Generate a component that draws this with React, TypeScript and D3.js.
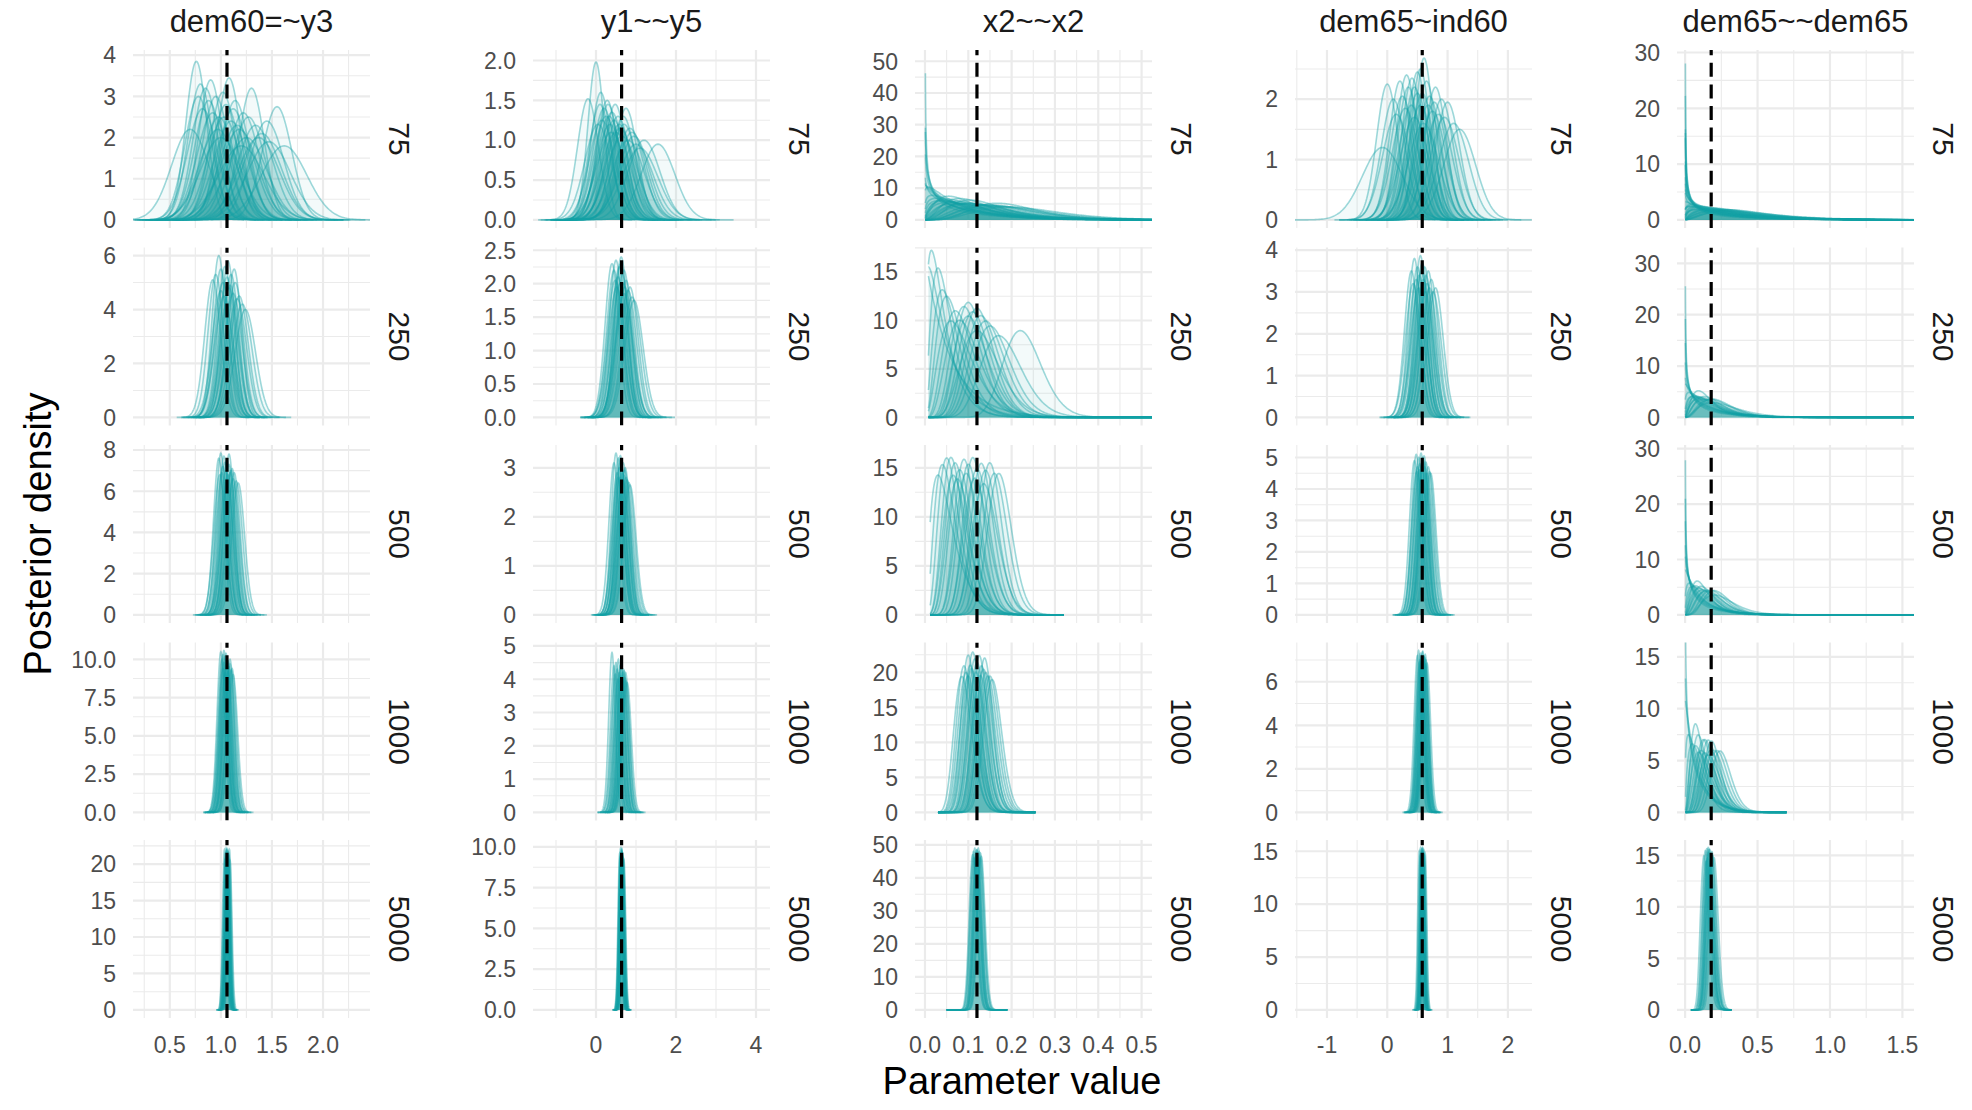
import React from "react";
import * as d3 from "d3";

const W = 1972;
const H = 1110;

// facet labels
const params = ["dem60=~y3", "y1~~y5", "x2~~x2", "dem65~ind60", "dem65~~dem65"];
const sampleSizes = ["75", "250", "500", "1000", "5000"];
const trueValues = [1.06, 0.64, 0.12, 0.58, 0.18];

// x axes (per column)
const xLimits = [
  [0.14, 2.46],
  [-1.575, 4.35],
  [-0.023, 0.524],
  [-1.53, 2.4],
  [-0.056, 1.58],
];
const xTickValues = [
  [0.5, 1.0, 1.5, 2.0],
  [0, 2, 4],
  [0, 0.1, 0.2, 0.3, 0.4, 0.5],
  [-1, 0, 1, 2],
  [0, 0.5, 1.0, 1.5],
];
const xTickDecimals = [1, 0, 1, 0, 1];

// y axes (rows x columns): maximum density and tick step
const yMaxByRow = [
  [3.93, 2.03, 51, 2.68, 29],
  [6.0, 2.42, 16.7, 3.87, 31.5],
  [7.85, 3.3, 16.5, 5.14, 29.2],
  [10.57, 4.86, 23.1, 7.43, 15.6],
  [22.2, 9.93, 49, 15.3, 15.7],
];
const yStepByRow = [
  [1, 0.5, 10, 1, 10],
  [2, 0.5, 5, 1, 10],
  [2, 1, 5, 1, 10],
  [2.5, 1, 5, 2, 5],
  [5, 2.5, 10, 5, 5],
];

// normal-shaped posteriors: [mode, peak density]
const dem60y3Curves = [
  [[0.76,3.85],[0.8,3.3],[0.85,3.2],[0.88,2.9],[0.92,2.6],[0.95,3.0],[0.98,2.5],[1.02,3.1],[1.05,2.8],[1.08,3.45],[1.1,2.4],[1.14,2.9],[1.18,2.2],[1.22,2.6],[1.25,2.0],[1.3,3.2],[1.34,2.3],[1.4,2.1],[1.47,1.9],[1.55,2.75],[1.62,1.8],[0.7,2.2],[1.0,2.0],[1.2,1.8],[0.82,2.7],[0.9,3.4],[0.97,2.2],[1.03,2.5],[1.12,2.7],[1.16,2.3],[1.27,2.5],[1.37,2.0],[0.78,3.0],[1.45,2.4]],
  [[0.95,5.3],[0.98,6.0],[1.0,5.5],[1.02,5.0],[1.04,5.6],[1.06,5.2],[1.07,5.8],[1.08,4.8],[1.1,5.3],[1.12,4.6],[1.14,5.0],[1.16,4.4],[1.18,4.5],[1.21,4.2],[1.24,4.0],[0.92,5.1],[1.03,4.5],[1.09,4.9],[1.13,5.5],[1.0,4.7]],
  [[0.98,7.6],[1.0,7.85],[1.02,7.2],[1.03,7.7],[1.05,7.0],[1.06,7.5],[1.07,6.8],[1.08,7.3],[1.09,6.9],[1.1,7.0],[1.12,6.6],[1.13,6.9],[1.15,6.5],[1.01,6.9],[1.04,7.4],[1.06,6.6],[1.08,7.8],[1.11,7.1],[0.99,6.8],[1.17,6.4]],
  [[1.0,10.5],[1.01,10.0],[1.02,10.3],[1.03,9.8],[1.04,10.2],[1.05,9.6],[1.06,10.1],[1.07,9.9],[1.08,9.5],[1.09,9.7],[1.1,9.3],[1.11,9.4],[1.12,9.0],[1.03,10.57],[1.05,10.4],[1.07,9.2],[1.09,10.0],[1.02,9.4],[1.06,9.8],[1.04,9.1]],
  [[1.035,22.0],[1.045,21.5],[1.05,22.2],[1.055,21.0],[1.06,21.8],[1.065,21.3],[1.07,22.0],[1.075,20.8],[1.08,21.2],[1.09,20.5],[1.05,20.9],[1.06,22.1],[1.07,21.5],[1.055,21.9],[1.065,20.7],[1.075,21.6],[1.04,20.6],[1.085,22.0],[1.06,21.0],[1.07,20.9]],
];
const y1y5Curves = [
  [[0.0,1.98],[-0.2,1.52],[0.1,1.45],[0.2,1.4],[0.25,1.3],[0.3,1.45],[0.35,1.2],[0.4,1.35],[0.45,1.25],[0.5,1.1],[0.55,1.3],[0.6,1.15],[0.65,1.05],[0.7,1.2],[0.8,1.0],[0.9,1.1],[1.0,0.95],[1.1,0.9],[1.55,0.95],[0.15,1.25],[0.75,1.4],[0.05,1.2],[0.12,1.6],[0.28,1.5],[0.38,1.1],[0.48,1.45],[0.58,1.2],[0.68,1.3],[0.85,1.15],[1.2,1.0],[0.33,1.3],[0.95,1.05]],
  [[0.4,2.3],[0.45,2.2],[0.5,2.35],[0.55,2.1],[0.58,2.25],[0.6,2.0],[0.62,2.3],[0.65,2.15],[0.68,2.0],[0.7,2.2],[0.72,1.95],[0.75,2.05],[0.8,1.9],[0.85,1.95],[0.9,1.8],[0.52,1.95],[0.63,2.4],[0.7,1.85],[0.48,2.05],[0.95,1.75]],
  [[0.45,3.1],[0.5,3.3],[0.53,2.9],[0.56,3.2],[0.58,3.0],[0.6,2.8],[0.62,3.15],[0.64,3.0],[0.66,2.9],[0.68,3.1],[0.7,2.85],[0.72,2.95],[0.75,2.8],[0.78,2.75],[0.82,2.7],[0.55,2.8],[0.61,3.25],[0.67,2.75],[0.73,3.0],[0.85,2.65]],
  [[0.4,4.8],[0.45,4.4],[0.5,4.5],[0.53,4.3],[0.56,4.6],[0.58,4.2],[0.6,4.4],[0.62,4.1],[0.64,4.35],[0.66,4.2],[0.68,4.0],[0.7,4.25],[0.72,4.05],[0.75,3.95],[0.78,3.9],[0.55,4.0],[0.63,4.5],[0.69,4.3],[0.48,4.15],[0.74,4.2]],
  [[0.59,9.6],[0.61,9.9],[0.62,9.4],[0.63,9.8],[0.64,9.5],[0.645,9.9],[0.65,9.3],[0.655,9.7],[0.66,9.5],[0.67,9.2],[0.67,9.6],[0.69,9.3],[0.62,9.1],[0.64,9.7],[0.66,9.0],[0.6,9.4],[0.65,9.8],[0.68,9.1],[0.61,9.3],[0.7,9.2]],
];
const dem65ind60Curves = [
  [[0.61,2.68],[0.41,2.35],[0.21,2.3],[0.0,2.25],[0.35,2.2],[1.0,1.95],[0.5,2.1],[0.55,1.9],[0.7,2.05],[0.75,1.8],[0.3,1.85],[0.45,1.7],[0.85,1.75],[0.9,2.0],[0.6,1.6],[0.15,1.75],[1.1,1.6],[-0.08,1.2],[0.65,2.3],[0.8,2.2],[0.25,2.05],[0.5,2.45],[0.1,2.0],[0.32,2.4],[0.45,2.2],[0.58,2.1],[0.68,1.9],[0.78,1.95],[0.95,1.7],[0.4,1.9],[0.55,2.5],[1.2,1.5]],
  [[0.4,3.5],[0.45,3.8],[0.48,3.3],[0.5,3.6],[0.53,3.4],[0.55,3.87],[0.57,3.5],[0.6,3.3],[0.62,3.6],[0.64,3.4],[0.66,3.2],[0.68,3.5],[0.7,3.1],[0.73,3.3],[0.76,3.0],[0.52,3.1],[0.58,3.7],[0.63,3.0],[0.43,3.2],[0.8,3.1]],
  [[0.45,4.9],[0.48,5.1],[0.5,4.7],[0.52,5.0],[0.54,4.8],[0.56,5.14],[0.58,4.6],[0.6,4.9],[0.62,4.7],[0.64,4.85],[0.66,4.5],[0.68,4.7],[0.7,4.55],[0.53,4.6],[0.59,5.0],[0.63,4.5],[0.57,4.75],[0.61,5.05],[0.49,4.55],[0.72,4.5]],
  [[0.5,7.2],[0.52,7.43],[0.54,7.0],[0.55,7.3],[0.56,6.9],[0.57,7.2],[0.58,7.35],[0.59,7.0],[0.6,7.2],[0.61,6.9],[0.62,7.1],[0.63,6.8],[0.64,7.0],[0.66,6.85],[0.53,6.9],[0.57,7.0],[0.59,7.4],[0.61,7.15],[0.55,6.8],[0.63,7.25]],
  [[0.53,15.0],[0.55,15.3],[0.56,14.8],[0.57,15.2],[0.575,14.9],[0.58,15.3],[0.585,14.7],[0.59,15.1],[0.6,14.8],[0.61,15.0],[0.62,14.6],[0.63,14.8],[0.57,14.6],[0.58,14.9],[0.59,14.5],[0.6,15.2],[0.565,15.1],[0.545,14.6],[0.585,15.2],[0.605,14.7]],
];

// variance posteriors (bounded at zero): [shape, mean]
const x2x2Curves = [
  [[0.48,0.08],[0.65,0.09],[0.75,0.1],[0.85,0.12],[0.95,0.1],[1.0,0.09],[1.1,0.08],[1.2,0.1],[1.4,0.12],[1.7,0.13],[1.8,0.11],[2.0,0.14],[2.2,0.1],[2.5,0.15],[3,0.12],[3,0.16],[3.5,0.18],[3.8,0.14],[4,0.2],[4.5,0.22],[5,0.24],[6,0.2],[0.7,0.08],[1.3,0.11],[2.8,0.15],[4.2,0.19],[1.6,0.12],[2.4,0.13]],
  [[1.0,0.06],[1.2,0.05],[1.55,0.042],[2.5,0.05],[2.9,0.061],[3.4,0.085],[3.6,0.069],[4.9,0.088],[5.2,0.099],[7.8,0.103],[8,0.114],[8.4,0.136],[10,0.111],[10.2,0.122],[12.6,0.13],[12.7,0.14],[13.3,0.151],[13.8,0.162],[14.1,0.183],[25.6,0.229]],
  [[2.3,0.053],[3.55,0.056],[5.2,0.062],[7,0.07],[8.5,0.079],[10,0.089],[14,0.097],[16.1,0.107],[20.9,0.116],[21.4,0.126],[26.5,0.135],[27.9,0.145],[35,0.154],[34.8,0.165],[39.2,0.175],[8,0.086],[13,0.103],[17.3,0.122],[6.6,0.077],[21.8,0.142]],
  [[23.4,0.094],[32.8,0.103],[31.5,0.108],[41.2,0.113],[41.2,0.118],[42.8,0.123],[50.7,0.128],[47.8,0.133],[49.1,0.138],[50.3,0.143],[51.3,0.148],[54.8,0.153],[55.5,0.158],[23.7,0.099],[24.9,0.104],[36,0.121],[31.8,0.111],[40.3,0.131],[18.3,0.09],[59,0.14]],
  [[182.6,0.1126],[200.5,0.1156],[198.4,0.1186],[213.8,0.1206],[207.6,0.1226],[227.2,0.1256],[233.3,0.1286],[230.6,0.1306],[187,0.1176],[229.2,0.1235],[170.9,0.1137],[215.3,0.1276],[210,0.1196],[202,0.1216],[169,0.1107]],
];
const dem65dem65Curves = [
  [[0.35,0.18],[0.45,0.2],[0.5,0.3],[0.55,0.25],[0.6,0.22],[0.65,0.3],[0.75,0.3],[0.85,0.35],[0.9,0.25],[1.0,0.3],[1.1,0.35],[1.2,0.28],[1.3,0.4],[1.5,0.35],[1.6,0.3],[1.8,0.4],[2.0,0.45],[2.2,0.35],[2.3,0.4],[2.5,0.5],[3,0.45],[0.8,0.3],[1.4,0.3],[1.9,0.35],[2.7,0.42],[1.15,0.32],[0.7,0.26]],
  [[0.5,0.12],[0.6,0.14],[0.7,0.15],[0.8,0.16],[0.9,0.17],[1.0,0.15],[1.2,0.16],[1.4,0.18],[1.6,0.17],[1.8,0.18],[2.0,0.2],[2.2,0.19],[2.5,0.22],[2.6,0.15],[3,0.2],[3,0.28],[3.5,0.24],[4,0.25]],
  [[0.5,0.1],[0.6,0.12],[0.7,0.12],[0.8,0.13],[0.9,0.12],[1.0,0.12],[1.3,0.13],[1.6,0.14],[2,0.14],[2.5,0.16],[2.8,0.13],[3,0.18],[3.2,0.16],[3.5,0.2],[4,0.2],[4.5,0.26],[5,0.22],[6,0.24]],
  [[0.72,0.09],[0.85,0.1],[1,0.09],[1.3,0.1],[1.8,0.11],[2.5,0.12],[3,0.14],[3.5,0.1],[4,0.12],[4,0.15],[5,0.17],[6,0.15],[6,0.19],[7,0.16],[8,0.2],[9,0.18],[10,0.22],[11,0.2],[12,0.24],[14,0.26]],
  [[30.6,0.1447],[35.8,0.1543],[38.7,0.1642],[45.2,0.1738],[48,0.1838],[52,0.1937],[56,0.2036],[24.9,0.1354],[34,0.1597],[42.6,0.1689],[42,0.1793],[52,0.1886],[28.7,0.1502],[37.6,0.1745],[41.2,0.164]],
];
// evaluation range [from, to] of the bounded posteriors, per row
const x2x2Range = [[0.001,0.524],[0.008,0.524],[0.012,0.32],[0.03,0.255],[0.05,0.19]];
const dem65dem65Range = [[0.002,1.58],[0.002,1.58],[0.002,1.58],[0.003,0.7],[0.04,0.32]];

const curveSets = [dem60y3Curves, y1y5Curves, x2x2Curves, dem65ind60Curves, dem65dem65Curves];
const curveKind = ["normal", "normal", "gamma", "normal", "gamma"];
const gammaRanges = [null, null, x2x2Range, null, dem65dem65Range];

// layout
const colLeft = [133, 533, 915, 1295, 1677];
const rowTop = [50, 247.5, 445, 642.5, 840];
const PW = 237;
const PH = 178;

const TEAL = "#12A0A6";
const FONT = "'Liberation Sans', Arial, Helvetica, sans-serif";

function lgamma(z: number): number {
  if (z < 0.5) return Math.log(Math.PI / Math.sin(Math.PI * z)) - lgamma(1 - z);
  z -= 1;
  const c = [0.99999999999980993, 676.5203681218851, -1259.1392167224028, 771.32342877765313,
    -176.61502916214059, 12.507343278686905, -0.13857109526572012, 9.9843695780195716e-6, 1.5056327351493116e-7];
  let x = c[0];
  for (let i = 1; i < 9; i++) x += c[i] / (z + i);
  const t = z + 7.5;
  return 0.5 * Math.log(2 * Math.PI) + (z + 0.5) * Math.log(t) - t + Math.log(x);
}

function normalPoints(mode: number, peak: number): [number, number][] {
  const sd = 1 / (peak * Math.sqrt(2 * Math.PI));
  const pts: [number, number][] = [];
  for (let i = 0; i <= 140; i++) {
    const t = -4.5 + (9 * i) / 140;
    const x = mode + t * sd;
    pts.push([x, peak * Math.exp(-0.5 * t * t)]);
  }
  return pts;
}

function gammaPoints(k: number, mean: number, x0: number, x1: number): [number, number][] {
  const th = mean / k;
  const lg = lgamma(k);
  const pts: [number, number][] = [];
  const N = 320;
  for (let i = 0; i <= N; i++) {
    const u = i / N;
    const x = x0 + (x1 - x0) * Math.pow(u, 1.7);
    const ly = (k - 1) * Math.log(x) - x / th - lg - k * Math.log(th);
    pts.push([x, Math.exp(ly)]);
  }
  return pts;
}

function fmt(v: number, d: number) {
  return d > 0 ? v.toFixed(d) : String(Math.round(v));
}

function Panel({ r, c }: { r: number; c: number }) {
  const left = colLeft[c];
  const top = rowTop[r];
  const x = d3.scaleLinear().domain(xLimits[c]).range([left, left + PW]);
  const ymax = yMaxByRow[r][c];
  const y = d3.scaleLinear().domain([-0.05 * ymax, 1.05 * ymax]).range([top + PH, top]);
  const ystep = yStepByRow[r][c];
  const yDec = ystep % 1 !== 0 ? 1 : 0;
  const yMajor = d3.range(0, 1.05 * ymax + 1e-9, ystep);
  const yMinor = d3.range(-ystep / 2, 1.05 * ymax + 1e-9, ystep).filter((v) => v >= -0.05 * ymax);
  const xt = xTickValues[c];
  const xstep = xt[1] - xt[0];
  const xMinor = d3
    .range(xt[0] - xstep / 2, xt[xt.length - 1] + xstep, xstep)
    .filter((v) => v >= xLimits[c][0] && v <= xLimits[c][1]);
  const clipId = `clip-${r}-${c}`;

  const line = d3.line<[number, number]>().x((d) => x(d[0])).y((d) => y(d[1]));
  const area = d3
    .area<[number, number]>()
    .x((d) => x(d[0]))
    .y0(y(0))
    .y1((d) => y(d[1]));

  const curves = curveSets[c][r].map((p) => {
    if (curveKind[c] === "normal") return normalPoints(p[0], p[1]);
    const rg = (gammaRanges[c] as number[][])[r];
    return gammaPoints(p[0], p[1], rg[0], rg[1]);
  });

  return (
    <g>
      <defs>
        <clipPath id={clipId}>
          <rect x={left} y={top} width={PW} height={PH} />
        </clipPath>
      </defs>
      {yMinor.map((v, i) => (
        <line key={"ym" + i} x1={left} x2={left + PW} y1={y(v)} y2={y(v)} stroke="#EBEBEB" strokeWidth={1.1} />
      ))}
      {xMinor.map((v, i) => (
        <line key={"xm" + i} x1={x(v)} x2={x(v)} y1={top} y2={top + PH} stroke="#EBEBEB" strokeWidth={1.1} />
      ))}
      {yMajor.map((v, i) => (
        <line key={"yM" + i} x1={left} x2={left + PW} y1={y(v)} y2={y(v)} stroke="#EBEBEB" strokeWidth={2.2} />
      ))}
      {xt.map((v, i) => (
        <line key={"xM" + i} x1={x(v)} x2={x(v)} y1={top} y2={top + PH} stroke="#EBEBEB" strokeWidth={2.2} />
      ))}
      <g clipPath={`url(#${clipId})`}>
        {curves.map((pts, i) => (
          <path key={"a" + i} d={area(pts) || ""} fill={TEAL} fillOpacity={0.05} stroke="none" />
        ))}
        {curves.map((pts, i) => (
          <path key={"l" + i} d={line(pts) || ""} fill="none" stroke={TEAL} strokeOpacity={0.4} strokeWidth={1.6} />
        ))}
        <line
          x1={x(trueValues[c])}
          x2={x(trueValues[c])}
          y1={top + PH}
          y2={top}
          stroke="#000"
          strokeWidth={3.2}
          strokeDasharray="14 7.6"
        />
      </g>
      {yMajor.map((v, i) => (
        <text key={"yl" + i} x={left - 17} y={y(v)} dy="0.36em" textAnchor="end" fontSize={23} fill="#4D4D4D">
          {fmt(v, yDec)}
        </text>
      ))}
      {r === 4 &&
        xt.map((v, i) => (
          <text key={"xl" + i} x={x(v)} y={top + PH + 35} textAnchor="middle" fontSize={23} fill="#4D4D4D">
            {fmt(v, xTickDecimals[c])}
          </text>
        ))}
      {r === 0 && (
        <text x={left + PW / 2} y={32} textAnchor="middle" fontSize={31} fill="#1A1A1A">
          {params[c]}
        </text>
      )}
      <text
        transform={`translate(${left + PW + 30},${top + PH / 2}) rotate(90)`}
        textAnchor="middle"
        dy="0.36em"
        fontSize={30}
        fill="#1A1A1A"
      >
        {sampleSizes[r]}
      </text>
    </g>
  );
}

export default function App() {
  const cells: JSX.Element[] = [];
  for (let r = 0; r < 5; r++) for (let c = 0; c < 5; c++) cells.push(<Panel key={`${r}-${c}`} r={r} c={c} />);
  return (
    <svg
      width={W}
      height={H}
      style={{ position: "absolute", left: 0, top: 0, background: "#fff" }}
      fontFamily={FONT}
    >
      <rect width={W} height={H} fill="#fff" />
      {cells}
      <text x={1022} y={1094} textAnchor="middle" fontSize={38} fill="#000">
        Parameter value
      </text>
      <text transform="translate(37,534) rotate(-90)" textAnchor="middle" dy="0.36em" fontSize={38} fill="#000">
        Posterior density
      </text>
    </svg>
  );
}
